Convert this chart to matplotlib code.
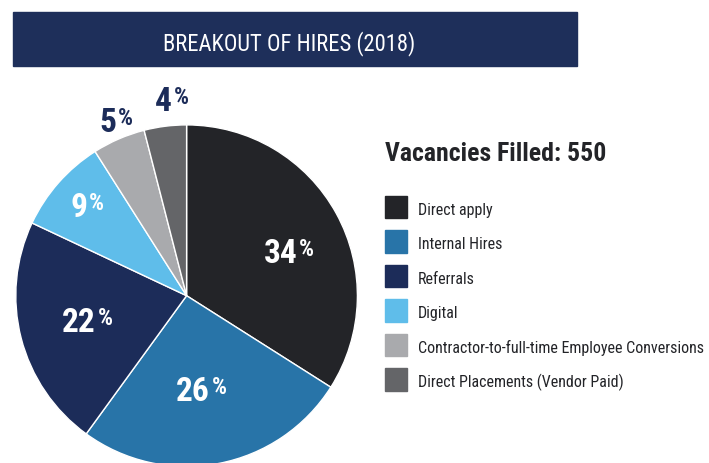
import matplotlib
matplotlib.use("Agg")
import matplotlib.pyplot as plt
import numpy as np
from matplotlib import font_manager
from matplotlib.patches import Rectangle

# ---- data ----
categories = ["Direct apply", "Internal Hires", "Referrals", "Digital",
              "Contractor-to-full-time Employee Conversions",
              "Direct Placements (Vendor Paid)"]
percents = [34, 26, 22, 9, 5, 4]
title_text = "BREAKOUT OF HIRES (2018)"
total_text = "Vacancies Filled: 550"

# ---- styles ----
colors = ["#232428", "#2874a8", "#1c2c59", "#5fbdea", "#a9aaad", "#646568"]
label_colors = ["white", "white", "white", "white", "#1c2c59", "#1c2c59"]
label_dist = [0.648, 0.553, 0.602, 0.789, 1.108, 1.153]
label_angle_shift = [-5.1, -2.3, -0.6, -0.7, -1.2, -2.7]
navy = "#1e2f5a"
text_dark = "#232428"

avail = {f.name for f in font_manager.fontManager.ttflist}
family = "DejaVu Sans"
for cand in ["Roboto Condensed", "Barlow Semi Condensed", "Roboto"]:
    if cand in avail:
        family = cand
        break
plt.rcParams["font.family"] = [family, "DejaVu Sans"]

W, H = 709, 463
fig = plt.figure(figsize=(W / 100, H / 100), dpi=100)


def fx(px):
    return px / W


def fy(py):
    return 1 - py / H


# title banner
fig.patches.append(Rectangle((fx(13), fy(66)), fx(577) - fx(13), fy(12) - fy(66),
                             transform=fig.transFigure, color=navy, zorder=0))
fig.text(fx(289.5), fy(50), title_text, color="white", fontsize=16.3,
         ha="center", va="baseline")

# pie
cx, cy, r = 186.6, 295.7, 170.8
ax = fig.add_axes([fx(cx - r), fy(cy + r), 2 * r / W, 2 * r / H])
wedges, _ = ax.pie(percents, colors=colors, startangle=90, counterclock=False,
                   radius=1, wedgeprops=dict(edgecolor="white", linewidth=1))
ax.set_xlim(-1, 1)
ax.set_ylim(-1, 1)
ax.set_aspect("equal")
ax.axis("off")

num_fs, pct_fs, cap = 24, 17, 0.711
px_per_pt = 100 / 72
pct_w = 15 / r  # approx width of the % sign in data units
half_cap = cap * num_fs * px_per_pt / 2 / r
for w, p, c, d, sh in zip(wedges, percents, label_colors, label_dist, label_angle_shift):
    ang = np.deg2rad((w.theta1 + w.theta2) / 2 + sh)
    x, y = d * np.cos(ang), d * np.sin(ang)
    yb = y - half_cap
    t = ax.text(x - pct_w / 2, yb, str(p), color=c, fontsize=num_fs, fontweight="bold",
                ha="center", va="baseline", clip_on=False)
    ax.annotate("%", xy=(1, yb), xycoords=(t, "data"),
                xytext=(1.2, cap * (num_fs - pct_fs)), textcoords="offset points",
                color=c, fontsize=pct_fs, fontweight="bold", ha="left", va="baseline",
                annotation_clip=False)

# header
fig.text(fx(385), fy(161), total_text, color=text_dark, fontsize=18.5,
         fontweight="bold", ha="left", va="baseline")

# legend (squares + labels)
row0, row_step, sq = 207, 34.5, 22.5
for i, (lab, col) in enumerate(zip(categories, colors)):
    yc = row0 + i * row_step
    fig.patches.append(Rectangle((fx(384.5), fy(yc + sq / 2)), sq / W, sq / H,
                                 transform=fig.transFigure, color=col, zorder=1))
    fig.text(fx(418), fy(yc + 7.5), lab, color=text_dark, fontsize=11.5,
             ha="left", va="baseline")

fig.savefig("out.png", dpi=100)
